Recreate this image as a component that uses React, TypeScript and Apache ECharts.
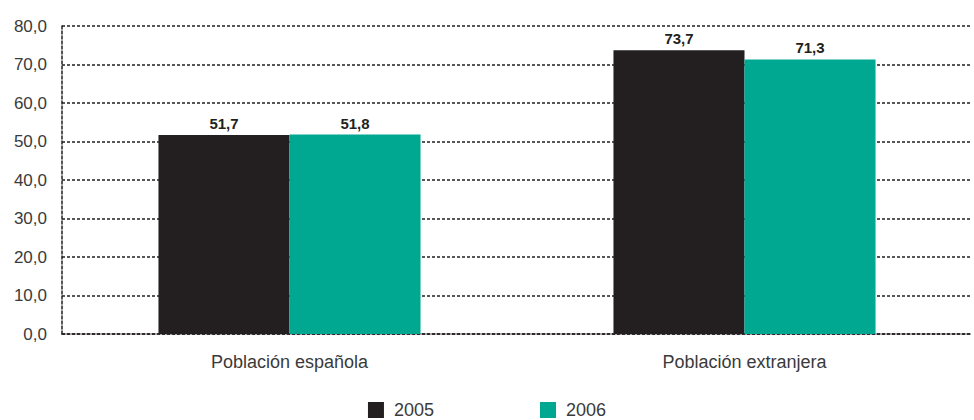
import React, { useEffect, useRef } from "react";
import * as echarts from "echarts";

const categories = ["Población española", "Población extranjera"];
const seriesNames = ["2005", "2006"];
const values2005 = [51.7, 73.7];
const values2006 = [51.8, 71.3];
const colors = ["#231f20", "#00a891"];

const fmt = (v: number) => v.toFixed(1).replace(".", ",");

export default function App() {
  const ref = useRef<HTMLDivElement>(null);
  useEffect(() => {
    if (!ref.current) return;
    const chart = echarts.init(ref.current, null, { renderer: "svg" });
    const font = "Liberation Sans, Arial, sans-serif";
    const dotted = { color: "#231f20", width: 1.5, type: [3, 2] as any };
    const barLabel = {
      show: true,
      position: "top",
      distance: 4,
      fontSize: 15,
      fontWeight: "bold",
      fontFamily: font,
      color: "#231f20",
      formatter: (p: any) => fmt(p.value),
    };
    chart.setOption({
      animation: false,
      textStyle: { fontFamily: font },
      grid: { left: 62, right: 2, top: 26, bottom: 86, containLabel: false },
      legend: {
        top: 396,
        left: "center",
        itemWidth: 16,
        itemHeight: 16,
        itemGap: 106,
        icon: "rect",
        textStyle: { fontSize: 18, lineHeight: 18, color: "#3a3a3a", fontFamily: font, padding: [0, 0, 0, 5] },
        data: seriesNames,
      },
      xAxis: {
        type: "category",
        data: categories,
        axisLine: { show: true, lineStyle: dotted },
        axisTick: { show: false },
        axisLabel: { fontSize: 18, color: "#3a3a3a", margin: 19, fontFamily: font },
      },
      yAxis: {
        type: "value",
        min: 0,
        max: 80,
        interval: 10,
        axisLine: { show: true, lineStyle: dotted },
        axisTick: { show: false },
        splitLine: { show: true, lineStyle: dotted },
        axisLabel: {
          fontSize: 17,
          color: "#3a3a3a",
          margin: 15,
          fontFamily: font,
          formatter: (v: number) => fmt(v),
        },
      },
      series: [
        {
          name: seriesNames[0],
          type: "bar",
          data: values2005,
          barWidth: "28.8%",
          barGap: "0%",
          itemStyle: { color: colors[0] },
          label: barLabel,
        },
        {
          name: seriesNames[1],
          type: "bar",
          data: values2006,
          barWidth: "28.8%",
          barGap: "0%",
          itemStyle: { color: colors[1] },
          label: barLabel,
        },
      ],
    });
    return () => chart.dispose();
  }, []);
  return <div ref={ref} style={{ width: 974, height: 420, position: "absolute", left: 0, top: 0 }} />;
}
